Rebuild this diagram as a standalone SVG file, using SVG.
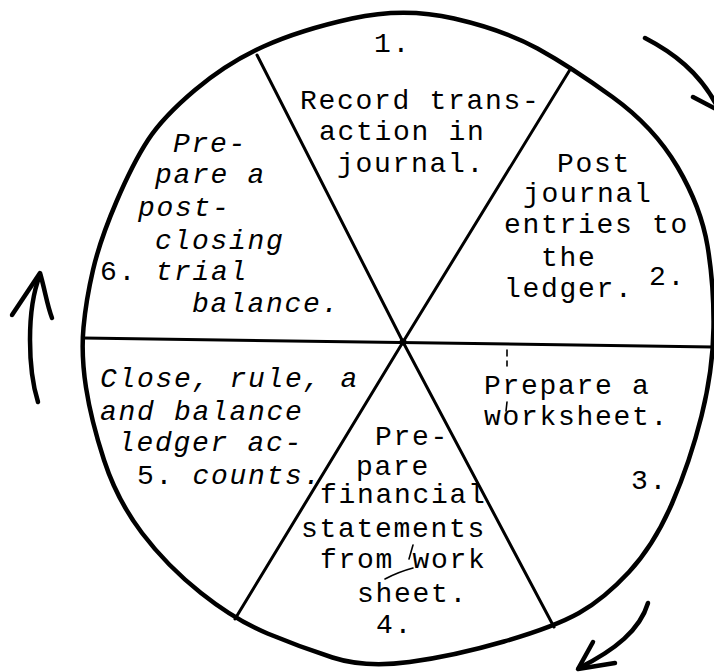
<svg xmlns="http://www.w3.org/2000/svg" width="714" height="672" viewBox="0 0 714 672">
<style>
.t{font-family:"Liberation Mono","DejaVu Sans Mono",monospace;font-size:28px;letter-spacing:1.7px;fill:#000}
.i{font-style:italic}
.n{font-style:normal}
.rim{fill:none;stroke:#000;stroke-width:4.5;stroke-linejoin:round}
.spoke{fill:none;stroke:#000;stroke-width:3;stroke-linecap:round}
.arr{fill:none;stroke:#000;stroke-width:4.5;stroke-linecap:round;stroke-linejoin:round}
.mark{fill:none;stroke:#000;stroke-width:1.6;stroke-linecap:round}
</style>
<rect width="714" height="672" fill="#fff"/>
<g id="wheel">
<path class="rim" d="M352,18.5 Q404,7 454,18.5 Q504,30 537.5,48.5 Q571,67 612.5,97 Q654,127 677.5,167 Q701,207 707.5,246 Q714,285 713.5,327.5 Q713,370 701.5,416 Q690,462 672,503.5 Q654,545 629,572 Q604,599 579,613 Q554,627 504,641.5 Q454,656 409.5,662 Q365,668 332.5,657.5 Q300,647 267.5,633.5 Q235,620 201,593 Q167,566 142,533 Q117,500 104,460 Q91,420 86,387.5 Q81,355 83.5,327.5 Q86,300 93,270 Q100,240 116.5,201.5 Q133,163 148,140 Q163,117 195,90 Q227,63 263.5,46.5 Q300,30 352,18.5 Z"/>
<line class="spoke" x1="83" y1="338" x2="713" y2="347"/>
<line class="spoke" x1="257" y1="55" x2="403" y2="342"/>
<line class="spoke" x1="571" y1="68" x2="403" y2="342"/>
<line class="spoke" x1="403" y1="342" x2="235" y2="619"/>
<line class="spoke" x1="403" y1="342" x2="554" y2="627"/>
<circle cx="403" cy="342" r="3.5" fill="#000"/>
</g>
<g id="step1">
<text class="t" x="374" y="52">1.</text>
<text class="t" x="300" y="109">Record trans-</text>
<text class="t" x="319" y="140">action in</text>
<text class="t" x="337" y="172">journal.</text>
</g>
<g id="step2">
<text class="t" x="557" y="172">Post</text>
<text class="t" x="523" y="202">journal</text>
<text class="t" x="504" y="233">entries to</text>
<text class="t" x="541" y="266">the</text>
<text class="t" x="649" y="285">2.</text>
<text class="t" x="504" y="297">ledger.</text>
</g>
<g id="step3">
<text class="t" x="484" y="394">Prepare a</text>
<text class="t" x="484" y="425">worksheet.</text>
<text class="t" x="631" y="489">3.</text>
<path class="mark" d="M507,350 L507,356 M507,361 L507,366 M507,402 L506,411" stroke-width="1"/>
</g>
<g id="step4">
<text class="t" x="375" y="445">Pre-</text>
<text class="t" x="356" y="475">pare</text>
<text class="t" x="320" y="503">financial</text>
<text class="t" x="301" y="537">statements</text>
<text class="t" x="320" y="568">from work</text>
<text class="t" x="357" y="602">sheet.</text>
<text class="t" x="376" y="633">4.</text>
<path class="mark" d="M413,545 L409,559 M385,579 Q398,572 413,568"/>
</g>
<g id="step5">
<text class="t i" x="100" y="387">Close, rule, a</text>
<text class="t i" x="100" y="420">and balance</text>
<text class="t i" x="118" y="451">ledger ac-</text>
<text class="t i" x="137" y="484"><tspan class="n">5.</tspan> counts.</text>
</g>
<g id="step6">
<text class="t i" x="173" y="152">Pre-</text>
<text class="t i" x="155" y="183">pare a</text>
<text class="t i" x="138" y="216">post-</text>
<text class="t i" x="155" y="249">closing</text>
<text class="t i" x="100" y="280"><tspan class="n">6.</tspan> trial</text>
<text class="t i" x="192" y="312">balance.</text>
</g>
<g id="connectors">
<path class="arr" d="M645,38 C672,52 700,72 718,108"/>
<path class="arr" d="M693,97 L718,110"/>
<path class="arr" d="M38,402 C28,370 26,310 40,275"/>
<path class="arr" d="M12,315 C22,300 32,285 40,273 C45,290 47,305 52,318"/>
<path class="arr" d="M648,603 C640,630 615,650 579,668"/>
<path class="arr" d="M593,642 L578,669 L615,663"/>
</g>
</svg>
